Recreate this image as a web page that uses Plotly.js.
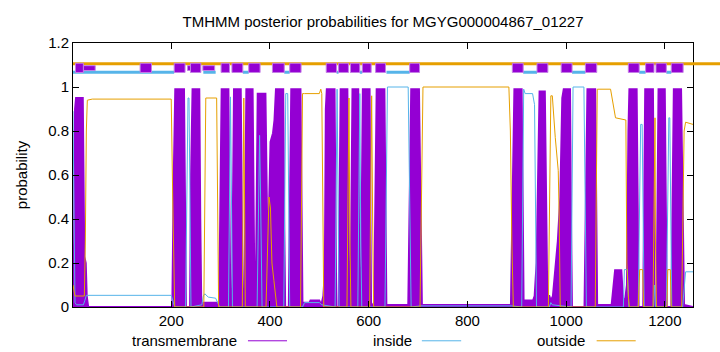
<!DOCTYPE html>
<html><head><meta charset="utf-8">
<script src="https://cdn.plot.ly/plotly-3.0.1.min.js"></script>
<style>body{margin:0;background:#fff}#chart{width:720px;height:352px}</style>
</head><body><div id="chart"></div>
<script>
// ---- posterior curves (residue position, probability) ----
const tmX = [1,3,5,7,21,23,24,27,29,32,202,205,208,226,228,230,238,240,243,257,259,261,272,290,297,299,302,316,318,320,323,325,327,341,343,345,348,350,352,365,367,369,371,373,375,391,393,395,398,401,406,409,412,427,429,431,438,440,443,462,464,466,480,482,500,504,508,511,513,515,531,533,534.5,539,541,543,557,559,561,563,565,567,579,580,581.5,584,586,588,602,603.5,605,611,614,616,632,634,636,680,683,686,702,705,708,888,891,895,910,912,914,933,936,940,943,946,957,959,962,966,969,973,977,983,988,992,995,1008,1010,1012,1037,1040,1043,1059,1061,1063,1092,1096,1099,1112,1115,1118,1123,1126,1128,1143,1145,1147,1156,1158,1160,1176,1177.5,1179,1183,1185,1187,1200,1202,1204,1213,1215,1218,1233,1236,1239,1257];
const tmY = [0.02,0.3,0.9,0.95,0.95,0.6,0.23,0.2,0.05,0,0,0.6,0.99,0.99,0.4,0,0,0.6,0.99,0.99,0.4,0.02,0.02,0.02,0.02,0.4,0.99,0.99,0.5,0,0,0.6,0.99,0.99,0.4,0,0,0.6,0.99,0.99,0.4,0,0,0.6,0.97,0.97,0.5,0.3,0.45,0.75,0.79,0.85,0.99,0.99,0.4,0,0,0.5,0.99,0.99,0.4,0.02,0.02,0.03,0.03,0.01,0.05,0.16,0.9,0.99,0.99,0.4,0,0,0.6,0.99,0.99,0.4,0,0,0.6,0.99,0.99,0.4,0,0,0.6,0.99,0.99,0.4,0,0.02,0.6,0.99,0.99,0.4,0.01,0.01,0.5,0.99,0.99,0.5,0.01,0.01,0.4,0.99,0.99,0.4,0.03,0.03,0.05,0.2,0.6,0.98,0.98,0.5,0.05,0.05,0.03,0.05,0.15,0.3,0.5,0.95,0.99,0.99,0.4,0,0,0.5,0.99,0.99,0.4,0.01,0.01,0.12,0.167,0.167,0.05,0.01,0.1,0.8,0.99,0.99,0.4,0,0,0.6,0.99,0.99,0.4,0,0,0.6,0.99,0.99,0.4,0,0,0.5,0.99,0.99,0.4,0.01,0];

const inX = [1,3,5,8,22,25,28,200,204,207,229,231,234,236,238,240,262,265,268,275,290,294,298,316,318,320,322,324,374,377,379,381,384,428,430,432,436,438,440,466,470,500,505,532,534,536,538,540,578,580,582,584,586,633,635,638,680,683,686,705,890,910,912,914,917,932,936,938,940,966,969,972,1010,1012,1014,1036,1039,1041,1116,1118,1124,1127,1146,1149,1151,1154,1156,1158,1177,1179,1181,1203,1206,1208,1210,1212,1214,1236,1239,1242,1257];
const inY = [0.89,0.5,0.02,0.01,0.01,0.03,0.053,0.053,0.02,0,0,0.5,0.95,0.95,0.5,0,0.01,0.05,0.06,0.045,0.04,0.02,0,0,0.5,0.955,0.5,0,0,0.5,0.78,0.5,0,0,0.5,0.97,0.97,0.5,0,0,0.02,0.02,0.01,0,0.5,0.99,0.5,0,0,0.5,0.97,0.3,0,0,0.5,1.0,1.0,0.5,0,0.005,0.005,0,0.5,0.99,0.97,0.97,0.92,0.5,0,0,0.02,0.01,0,0.5,1.0,1.0,0.5,0,0,0.17,0.17,0,0,0.5,0.83,0.83,0.3,0,0,0.1,0,0,0.5,0.86,0.86,0.3,0,0,0.1,0.16,0.16];

const outX = [1,3,5,24,26,28,30,40,200,203,207,266,268,270,292,294,296,344,345.5,347,348.5,350,392,395,398,401,404,408,411,414,462,464,466,470,500,503,505,507,509,556,558,560,562,564,602,604,606,608,610,704,707,710,884,887,890,893,964,967,969,972,975,978,984,986,988,1059,1061,1063,1090,1095,1100,1121,1123,1126,1128,1146,1149,1155,1157,1176,1178,1180,1181,1183,1204,1206,1211,1213,1234,1236,1239,1242,1257];
const outY = [0.1,0.07,0.05,0.05,0.3,0.8,0.94,0.945,0.945,0.5,0,0,0.5,0.95,0.95,0.5,0,0,0.6,0.95,0.5,0,0,0.3,0.5,0.45,0.2,0.12,0.05,0,0,0.5,0.97,0.97,0.97,0.99,0.97,0.5,0,0,0.5,0.95,0.3,0,0,0.5,0.96,0.4,0,0,0.5,1.0,1.0,0.8,0.3,0,0,0.5,0.96,0.96,0.85,0.77,0.62,0.4,0,0,0.5,0.99,0.99,0.92,0.86,0.85,0.2,0.05,0,0,0.17,0.17,0,0,0.5,0.86,0.3,0,0,0.17,0.17,0,0,0.4,0.8,0.84,0.83];

// ---- predicted topology header (start, end residues) ----
const tmSegStart = [6,137,206,239,301,323,357,405,440,514,539,563,587,614,683,891,941,990,1039,1126,1161,1182,1213];
const tmSegEnd   = [22,160,228,260,318,345,380,429,463,535,559,582,605,634,703,913,963,1012,1062,1148,1178,1203,1237];
const smallSegStart = [22,233,264];
const smallSegEnd   = [46,240,288];
const inSegStart = [1,265,345,429,535,582,636,913,1012,1148,1203];
const inSegEnd   = [206,290,357,440,539,587,683,941,1039,1161,1213];

const seqLen = 1257;
const xTicks = [200,400,600,800,1000,1200];
const seriesNames = ['transmembrane','inside','outside'];
const colors = {tm:'#9400D3', inside:'#56B4E9', outside:'#E69F00'};
const FONT = 'Liberation Sans, Arial, sans-serif';

const traces = [
  {x:tmX, y:tmY, type:'scatter', mode:'lines', fill:'tozeroy', fillcolor:colors.tm,
   line:{color:colors.tm, width:1.8}, showlegend:false, hoverinfo:'skip'},
  {x:inX, y:inY, type:'scatter', mode:'lines', line:{color:colors.inside, width:1}, showlegend:false},
  {x:outX, y:outY, type:'scatter', mode:'lines', line:{color:colors.outside, width:1}, showlegend:false}
];

const shapes = [];
// outside header line (extends past the frame, as in the reference)
shapes.push({type:'line', xref:'paper', yref:'y', x0:0, x1:1.0444, y0:1.106, y1:1.106,
  line:{color:colors.outside, width:3}});
inSegStart.forEach((s,i)=>shapes.push({type:'line', xref:'x', yref:'y', x0:s, x1:inSegEnd[i], y0:1.067, y1:1.067,
  line:{color:colors.inside, width:3}}));
smallSegStart.forEach((s,i)=>shapes.push({type:'rect', xref:'x', yref:'y', x0:s, x1:smallSegEnd[i], y0:1.075, y1:1.097,
  fillcolor:colors.tm, line:{color:'#c47ee6', width:1}}));
tmSegStart.forEach((s,i)=>shapes.push({type:'rect', xref:'x', yref:'y', x0:s, x1:tmSegEnd[i], y0:1.066, y1:1.108,
  fillcolor:colors.tm, line:{color:'#c47ee6', width:1}}));

// legend (gnuplot style: text then sample line)
const legText = [{t:seriesNames[0], x:0.2676, c:colors.tm, l0:0.2822, l1:0.3452},
                 {t:seriesNames[1], x:0.5493, c:colors.inside, l0:0.5627, l1:0.6261},
                 {t:seriesNames[2], x:0.8296, c:colors.outside, l0:0.8446, l1:0.9076}];
const annotations = [];
legText.forEach(o=>{
  annotations.push({text:o.t, xref:'paper', yref:'paper', x:o.x, y:-0.128, xanchor:'right', yanchor:'middle',
    showarrow:false, font:{family:FONT, size:15, color:'#000'}});
  shapes.push({type:'line', xref:'paper', yref:'paper', x0:o.l0, x1:o.l1, y0:-0.128, y1:-0.128,
    line:{color:o.c, width:1}});
});

const axisCommon = {showline:true, linecolor:'#000', linewidth:1, mirror:'ticks', ticks:'inside',
  ticklen:6, tickcolor:'#000', showgrid:false, zeroline:false,
  tickfont:{family:FONT, size:15, color:'#000'}};

const layout = {
  width:720, height:352,
  margin:{l:73, r:27, t:43, b:45},
  paper_bgcolor:'#fff', plot_bgcolor:'#fff',
  title:{text:'TMHMM posterior probabilities for MGYG000004867_01227', x:0.532, xanchor:'center',
    y:0.9375, yanchor:'middle', font:{family:FONT, size:15, color:'#000'}},
  xaxis:Object.assign({}, axisCommon, {range:[1, seqLen], tickvals:xTicks, ticktext:xTicks.map(String)}),
  yaxis:Object.assign({}, axisCommon, {range:[0,1.2], dtick:0.2, tick0:0,
    title:{text:'probability', font:{family:FONT, size:15, color:'#000'}, standoff:16}}),
  shapes:shapes, annotations:annotations, showlegend:false
};

Plotly.newPlot('chart', traces, layout, {displayModeBar:false, staticPlot:true});
</script></body></html>
